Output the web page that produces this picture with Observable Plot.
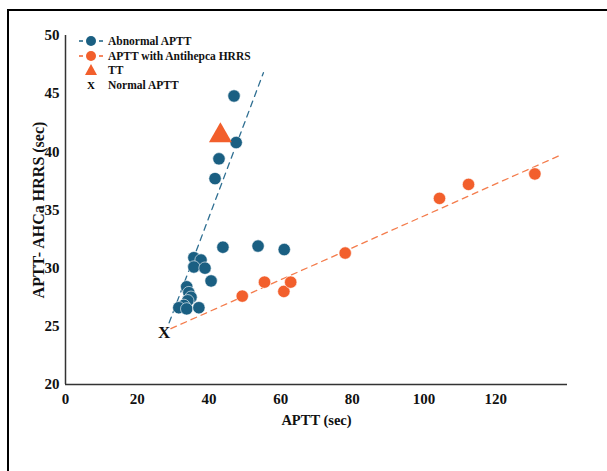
<!DOCTYPE html>
<html>
<head>
<meta charset="utf-8">
<script src="https://cdn.jsdelivr.net/npm/d3@7"></script>
<script src="https://cdn.jsdelivr.net/npm/@observablehq/plot@0.6"></script>
<style>
  html, body { margin: 0; padding: 0; background: #fff; }
  #wrap { position: relative; width: 607px; height: 471px; overflow: hidden; }
  #frame { position: absolute; left: 7px; top: 9px; width: 620px; height: 480px;
           border-left: 2px solid #000; border-top: 2px solid #000; pointer-events: none; }
  #legend { position: absolute; left: 76px; top: 34px; font-family: "Liberation Serif", serif;
            font-weight: bold; font-size: 11.5px; color: #111; }
  .row { display: flex; align-items: center; height: 14.5px; }
  .row svg { width: 30px; height: 14px; flex: none; }
</style>
</head>
<body>
<div id="wrap">
  <div id="chart"></div>
  <div id="legend"></div>
  <div id="frame"></div>
</div>
<script>
// Abnormal APTT (blue)
const abnormalX = [47.0, 47.6, 42.8, 41.7, 43.9, 53.7, 61.0, 35.8, 37.8, 35.8, 38.9, 40.6, 33.8, 34.4, 35.0, 34.1, 33.0, 31.6, 33.8, 37.2];
const abnormalY = [44.8, 40.8, 39.4, 37.7, 31.8, 31.9, 31.6, 30.9, 30.7, 30.1, 30.0, 28.9, 28.4, 27.9, 27.5, 27.2, 26.8, 26.6, 26.5, 26.6];
// APTT with Antihepca HRRS (orange)
const antihepcaX = [49.3, 55.5, 60.9, 62.8, 78.0, 104.3, 112.4, 130.9];
const antihepcaY = [27.6, 28.8, 28.0, 28.8, 31.3, 36.0, 37.2, 38.1];
// TT
const ttX = [43.2];
const ttY = [41.4];
// Normal APTT
const normalX = [27.5];
const normalY = [24.5];
// Trend lines
const blueLineX = [28.9, 55.2];
const blueLineY = [25.3, 46.8];
const orangeLineX = [29.4, 137.9];
const orangeLineY = [24.8, 39.7];
// Ticks
const xTicks = [0, 20, 40, 60, 80, 100, 120];
const yTicks = [20, 25, 30, 35, 40, 45, 50];
const seriesNames = ["Abnormal APTT", "APTT with Antihepca HRRS", "TT", "Normal APTT"];

const blue = "#1a5f82", orange = "#f25f2c", blueDash = "#2f6f92", orangeDash = "#f47c4c";

const zip = (xs, ys) => xs.map((x, i) => ({x, y: ys[i]}));
const abnormal = zip(abnormalX, abnormalY);
const antihepca = zip(antihepcaX, antihepcaY);
const tt = zip(ttX, ttY);
const normal = zip(normalX, normalY);
const blueLine = zip(blueLineX, blueLineY);
const orangeLine = zip(orangeLineX, orangeLineY);

const chart = Plot.plot({
  width: 607,
  height: 471,
  marginLeft: 65,
  marginTop: 35,
  marginRight: 40,
  marginBottom: 87,
  style: {fontFamily: "Liberation Serif, serif", fontWeight: "bold", fontSize: "15px", color: "#111", background: "white"},
  x: {domain: [0, 140]},
  y: {domain: [20, 50]},
  marks: [
    Plot.axisX({ticks: xTicks, tickSize: 0, tickPadding: 9, fontSize: 15, label: null}),
    Plot.axisX({ticks: [], tickSize: 0, label: "APTT (sec)", labelAnchor: "center", labelArrow: false, labelOffset: 40, fontSize: 14.5}),
    Plot.axisY({ticks: yTicks, tickSize: 0, tickPadding: 6, fontSize: 15, label: null}),
    Plot.axisY({ticks: [], tickSize: 0, label: "APTT- AHCa HRRS (sec)", labelAnchor: "center", labelArrow: false, labelOffset: 33, fontSize: 16}),
    Plot.ruleY([20], {stroke: "#333", strokeWidth: 1.5}),
    Plot.ruleX([0], {stroke: "#333", strokeWidth: 1.5}),
    Plot.line(blueLine, {x: "x", y: "y", stroke: blueDash, strokeWidth: 1.3, strokeDasharray: "6,5"}),
    Plot.line(orangeLine, {x: "x", y: "y", stroke: orangeDash, strokeWidth: 1.3, strokeDasharray: "6,5"}),
    Plot.dot(abnormal, {x: "x", y: "y", r: 6.2, fill: blue, stroke: "white", strokeWidth: 0.6}),
    Plot.dot(antihepca, {x: "x", y: "y", r: 6.2, fill: orange, stroke: "white", strokeWidth: 0.6}),
    Plot.dot(tt, {x: "x", y: "y", r: 8.5, symbol: "triangle", fill: orange}),
    Plot.text(normal, {x: "x", y: "y", text: () => "X", fontSize: 17, fontWeight: "bold", fill: "#111"})
  ]
});
document.getElementById("chart").appendChild(chart);

// Legend
const legend = d3.select("#legend");
const kinds = ["blueDot", "orangeDot", "triangle", "x"];
seriesNames.forEach((name, i) => {
  const row = legend.append("div").attr("class", "row");
  const svg = row.append("svg").attr("viewBox", "0 0 30 14");
  const k = kinds[i];
  if (k === "blueDot" || k === "orangeDot") {
    const c = k === "blueDot" ? blue : orange;
    svg.append("line").attr("x1", 3).attr("x2", 7).attr("y1", 7).attr("y2", 7).attr("stroke", c).attr("stroke-width", 1.5);
    svg.append("line").attr("x1", 23).attr("x2", 27).attr("y1", 7).attr("y2", 7).attr("stroke", c).attr("stroke-width", 1.5);
    svg.append("circle").attr("cx", 15).attr("cy", 7).attr("r", 5).attr("fill", c);
  } else if (k === "triangle") {
    svg.append("path").attr("d", "M15,1 L21,12 L9,12 Z").attr("fill", orange);
  } else {
    svg.append("text").attr("x", 15).attr("y", 11).attr("text-anchor", "middle")
      .attr("font-family", "Liberation Serif, serif").attr("font-weight", "bold").attr("font-size", 11).text("X");
  }
  row.append("span").style("margin-left", "2px").text(name);
});
</script>
</body>
</html>
